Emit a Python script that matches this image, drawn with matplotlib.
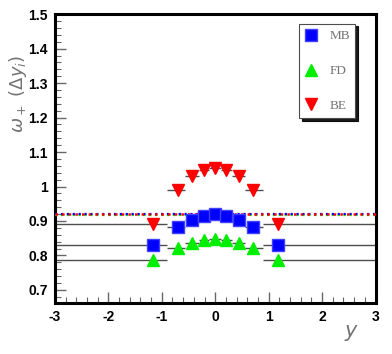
import numpy as np
import matplotlib
matplotlib.use("Agg")
import matplotlib.pyplot as plt
from matplotlib.ticker import MultipleLocator

# bin edges in rapidity and marker positions
edges = [-3.0, -0.9, -0.56, -0.31, -0.11, 0.11, 0.31, 0.56, 0.9, 3.0]
ypos = [-1.17, -0.70, -0.44, -0.21, 0.0, 0.21, 0.44, 0.70, 1.17]

mb = [0.829, 0.883, 0.904, 0.915, 0.919, 0.915, 0.904, 0.883, 0.829]
fd = [0.787, 0.822, 0.836, 0.846, 0.849, 0.846, 0.836, 0.822, 0.787]
be = [0.891, 0.991, 1.030, 1.049, 1.054, 1.049, 1.030, 0.991, 0.891]

# full-range reference values (dotted lines)
mb_full = 0.919
fd_full = 0.917
be_full = 0.921

plt.rcParams['font.family'] = ['Liberation Sans', 'DejaVu Sans']
plt.rcParams['axes.unicode_minus'] = False

fig = plt.figure(figsize=(3.92, 3.54), dpi=100)
ax = fig.add_axes([0.140, 0.145, 0.818, 0.815])

x = np.array(ypos)
lo = x - np.array(edges[:-1])
hi = np.array(edges[1:]) - x

# horizontal bars showing bin widths
for vals in (mb, fd, be):
    ax.errorbar(x, vals, xerr=[lo, hi], fmt='none', ecolor='0.3', elinewidth=1.0, zorder=2)

ax.plot(x, mb, 's', color='#0000ff', mec='#4040ff', ms=8, label='MB', zorder=4)
ax.plot(x, fd, '^', color='#00ee00', mec='#00ee00', ms=8.5, label='FD', zorder=4)
ax.plot(x, be, 'v', color='#ff0000', mec='#ff0000', ms=8.5, label='BE', zorder=4)

ax.axhline(fd_full, color='#00ee00', ls=':', lw=1.6, zorder=3)
ax.axhline(mb_full, color='#0000ff', ls=':', lw=1.6, zorder=3)
ax.axhline(be_full, color='#ff0000', ls=':', lw=1.8, zorder=3)

ax.set_xlim(-3, 3)
ax.set_ylim(0.663, 1.5)
ax.xaxis.set_major_locator(MultipleLocator(1))
ax.xaxis.set_minor_locator(MultipleLocator(0.2))
ax.yaxis.set_minor_locator(MultipleLocator(0.02))
ax.set_yticks([0.7, 0.8, 0.9, 1.0, 1.1, 1.2, 1.3, 1.4, 1.5])
ax.set_yticklabels(['0.7', '0.8', '0.9', '1', '1.1', '1.2', '1.3', '1.4', '1.5'])
ax.tick_params(which='both', direction='in', top=False, right=False, labelsize=10)
ax.tick_params(which='major', length=8, width=1, color='0.4', pad=5)
ax.tick_params(which='minor', length=4, width=0.8, color='0.4')
for lab in ax.get_xticklabels() + ax.get_yticklabels():
    lab.set_fontweight('bold')
for s in ax.spines.values():
    s.set_linewidth(2.2)

fig.text(0.045, 0.735, r'$\omega_+\ (\Delta y_i)$', rotation=90, ha='center', va='center',
         fontsize=13, color='0.45')
fig.text(0.898, 0.03, r'$y$', ha='center', va='bottom', fontsize=15, color='0.45')

leg = ax.legend(loc='upper left', bbox_to_anchor=(0.742, 0.681, 0.216, 0.309), mode='expand',
                frameon=True, fancybox=False, shadow={'color': 'k', 'alpha': 0.9, 'ox': 2, 'oy': -2},
                borderpad=0.5, labelspacing=1.7, handlelength=0.8, handletextpad=1.0,
                prop={'family': ['Liberation Serif', 'DejaVu Serif'], 'size': 9.5})
leg.get_frame().set_edgecolor('0.3')
leg.get_frame().set_linewidth(0.8)
for t in leg.get_texts():
    t.set_color('0.45')

fig.savefig('out.png', dpi=100)
